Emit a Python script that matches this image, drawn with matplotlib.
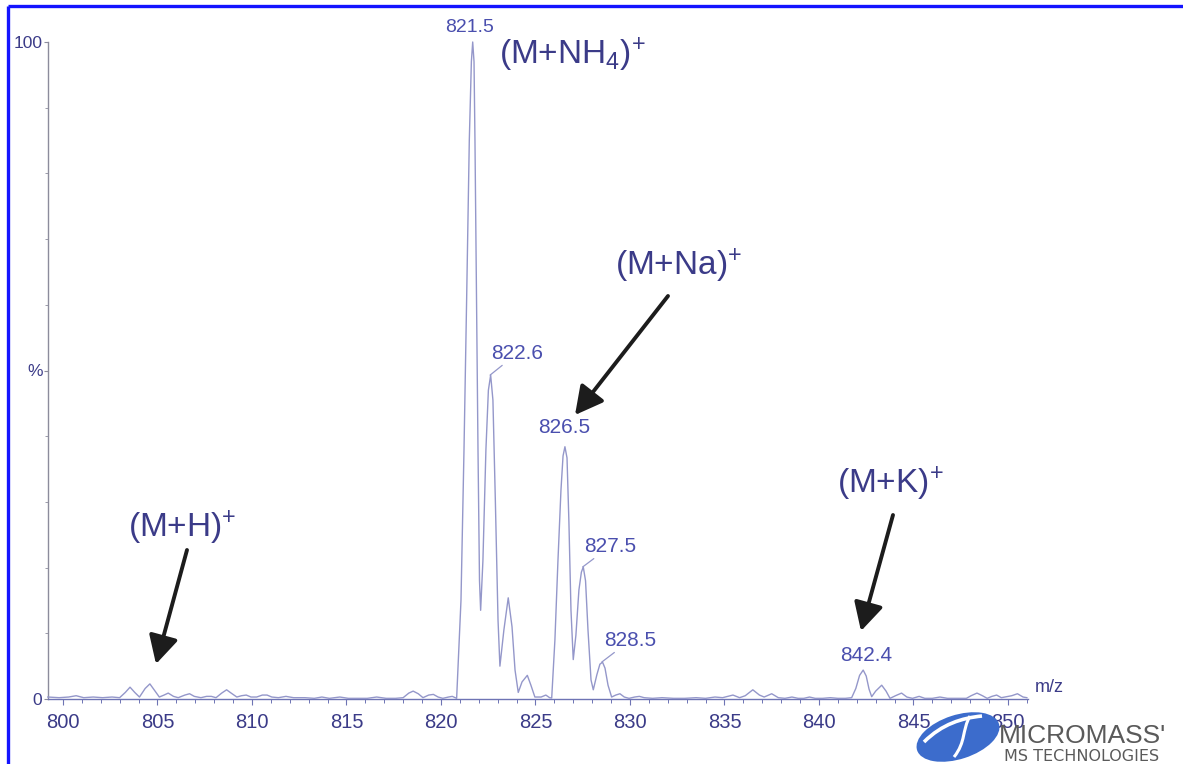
import matplotlib
matplotlib.use('Agg')
import matplotlib.pyplot as plt
from matplotlib.patches import Ellipse, PathPatch
from matplotlib.path import Path
from matplotlib.ticker import MultipleLocator, FixedLocator

plt.rcParams['font.family'] = ['Liberation Sans', 'DejaVu Sans']
plt.rcParams['mathtext.fontset'] = 'custom'
plt.rcParams['mathtext.rm'] = 'Liberation Sans'
plt.rcParams['mathtext.it'] = 'Liberation Sans:italic'
plt.rcParams['mathtext.bf'] = 'Liberation Sans:bold'

# spectrum trace (m/z, relative intensity %)
mz_trace = [
    799.2, 799.8, 800.3, 800.7, 801.1, 801.6, 802.1, 802.6, 803.0, 803.3,
    803.55, 803.8, 804.05, 804.35, 804.6, 804.85, 805.1, 805.35, 805.57, 805.85,
    806.1, 806.45, 806.7, 806.95, 807.3, 807.6, 807.85, 808.1, 808.4, 808.66,
    808.9, 809.2, 809.45, 809.7, 809.95, 810.25, 810.55, 810.8, 811.05, 811.4,
    811.8, 812.2, 812.8, 813.3, 813.7, 814.1, 814.65, 815.1, 815.7, 816.1,
    816.6, 817.1, 817.6, 818.0, 818.3, 818.53, 818.8, 819.05, 819.35, 819.6,
    819.85, 820.1, 820.4, 820.6, 820.83,
    821.06, 821.22, 821.36, 821.5, 821.61, 821.68, 821.75, 821.8, 821.88, 821.96,
    822.04, 822.1, 822.22, 822.38, 822.51, 822.63, 822.75, 822.88, 823.02, 823.12,
    823.33, 823.56, 823.76, 823.92, 824.09, 824.29, 824.57, 824.76, 824.97, 825.3,
    825.55, 825.75, 825.86, 826.03, 826.19, 826.35, 826.46, 826.56, 826.67, 826.77,
    826.88, 827.0, 827.14, 827.3, 827.43, 827.53, 827.65, 827.78, 827.94, 828.06,
    828.25, 828.41, 828.55, 828.68, 828.84, 829.03, 829.25, 829.47, 829.7, 829.95,
    830.25, 830.5, 830.75, 831.2, 831.7, 832.3, 832.9, 833.5, 834.0, 834.5,
    834.9, 835.45, 835.8, 836.1, 836.5, 836.85, 837.1, 837.5, 837.85, 838.2,
    838.57, 838.9, 839.2, 839.5, 839.8, 840.2, 840.6, 841.0, 841.4, 841.73,
    841.95, 842.15, 842.34, 842.5, 842.65, 842.79, 843.0, 843.32, 843.55, 843.76,
    844.05, 844.37, 844.65, 844.95, 845.3, 845.6, 846.0, 846.4, 846.8, 847.3,
    847.8, 848.05, 848.36, 848.65, 848.9, 849.15, 849.4, 849.65, 850.2, 850.5,
    850.8, 851.0,
]
rel_int = [
    0.3, 0.2, 0.3, 0.5, 0.2, 0.3, 0.2, 0.3, 0.2, 1.0,
    1.8, 1.0, 0.3, 1.6, 2.3, 1.3, 0.3, 0.6, 0.9, 0.4,
    0.2, 0.6, 0.8, 0.4, 0.2, 0.4, 0.4, 0.2, 0.9, 1.4,
    0.9, 0.3, 0.5, 0.6, 0.3, 0.3, 0.6, 0.6, 0.3, 0.2,
    0.4, 0.2, 0.2, 0.1, 0.3, 0.1, 0.3, 0.1, 0.1, 0.1,
    0.3, 0.1, 0.1, 0.2, 0.9, 1.2, 0.8, 0.2, 0.6, 0.7,
    0.3, 0.1, 0.3, 0.4, 0.1,
    15, 38, 61, 85, 97, 100, 97, 85, 61, 38,
    18, 13.5, 21, 38, 47, 49.3, 45.5, 30, 12, 5,
    10.5, 15.4, 11, 4.4, 1.0, 2.6, 3.6, 2.1, 0.3, 0.3,
    0.6, 0.2, 0.15, 9, 21, 31.8, 37, 38.4, 36.7, 27,
    13.5, 6, 9.7, 16.6, 19.3, 20.1, 18, 10.5, 2.9, 1.4,
    3.7, 5.3, 5.6, 4.7, 2.1, 0.3, 0.6, 0.8, 0.3, 0.1,
    0.3, 0.4, 0.2, 0.1, 0.2, 0.1, 0.1, 0.2, 0.1, 0.3,
    0.2, 0.6, 0.2, 0.5, 1.4, 0.6, 0.3, 0.8, 0.2, 0.1,
    0.3, 0.1, 0.1, 0.3, 0.1, 0.1, 0.2, 0.1, 0.1, 0.2,
    1.6, 3.6, 4.4, 3.5, 1.5, 0.35, 1.2, 2.1, 1.2, 0.1,
    0.5, 0.9, 0.3, 0.1, 0.4, 0.1, 0.1, 0.3, 0.1, 0.1,
    0.1, 0.5, 0.9, 0.5, 0.1, 0.4, 0.6, 0.2, 0.5, 0.8,
    0.3, 0.2,
]

# labelled peaks
peak_mz = [821.5, 822.6, 826.5, 827.5, 828.5, 842.4]
peak_int = [100, 49.3, 38.4, 20.1, 5.6, 4.4]
peak_text = ['821.5', '822.6', '826.5', '827.5', '828.5', '842.4']

# ion annotations
ion_text = [r'(M+NH$_\mathrm{4}$)$^\mathrm{+}$', r'(M+Na)$^\mathrm{+}$',
            r'(M+H)$^\mathrm{+}$', r'(M+K)$^\mathrm{+}$']

x_ticks = [800, 805, 810, 815, 820, 825, 830, 835, 840, 845, 850]
y_ticks = [0, 50, 100]
y_tick_labels = ['0', '%', '100']

trace_col = '#9497ca'
label_col = '#4a4fae'
dark_blue = '#3b3b88'

W, H = 1183, 764
fig = plt.figure(figsize=(W / 100, H / 100), dpi=100)
fig.patch.set_facecolor('white')


def px_rect(x0, y0, x1, y1):
    return [x0 / W, 1 - y1 / H, (x1 - x0) / W, (y1 - y0) / H]


ax = fig.add_axes(px_rect(48, 42, 1028, 699))
ax.plot(mz_trace, rel_int, color=trace_col, lw=1.0, clip_on=False, zorder=3)
ax.set_xlim(799.21, 851.06)
ax.set_ylim(0, 100)

for s in ['top', 'right']:
    ax.spines[s].set_visible(False)
ax.spines['left'].set_color('#8c8c9c')
ax.spines['bottom'].set_color('#6e74b4')
ax.spines['left'].set_linewidth(1.0)
ax.spines['bottom'].set_linewidth(1.0)

ax.xaxis.set_major_locator(FixedLocator(x_ticks))
ax.xaxis.set_minor_locator(MultipleLocator(1))
ax.set_xticklabels([str(t) for t in x_ticks])
ax.yaxis.set_major_locator(FixedLocator(y_ticks))
ax.yaxis.set_minor_locator(MultipleLocator(10))
ax.set_yticklabels(y_tick_labels)
ax.tick_params(axis='x', which='major', direction='out', length=4, width=0.8,
               color='#6e74b4', labelsize=14.5, labelcolor=dark_blue, pad=6)
ax.tick_params(axis='x', which='minor', direction='out', length=3, width=0.7,
               color='#6e74b4')
ax.tick_params(axis='y', which='major', direction='out', length=3, width=0.8,
               color='#8c8c9c', labelsize=12.5, labelcolor=dark_blue, pad=1)
ax.tick_params(axis='y', which='minor', direction='out', length=2, width=0.6,
               color='#8c8c9c')

# peak labels (offset in points from the apex)
offsets = [(0, 4, 'center'), (1, 9, 'left'), (0, 7, 'center'),
           (1, 8, 'left'), (2, 9, 'left'), (1, 4, 'center')]
for m, v, t, (dx, dy, ha) in zip(peak_mz, peak_int, peak_text, offsets):
    if ha == 'left':
        ax.annotate(t, xy=(m, v), xytext=(dx, dy), textcoords='offset points',
                    ha=ha, va='bottom', fontsize=15 if t != '821.5' else 14,
                    color=label_col, annotation_clip=False,
                    arrowprops=dict(arrowstyle='-', color=trace_col, lw=0.9,
                                    shrinkA=0, shrinkB=0))
    else:
        ax.annotate(t, xy=(m, v), xytext=(dx, dy), textcoords='offset points',
                    ha=ha, va='bottom', fontsize=15 if t != '821.5' else 14,
                    color=label_col, annotation_clip=False)

ax.text(1.007, 0.005, 'm/z', transform=ax.transAxes, fontsize=13,
        color=dark_blue, ha='left', va='bottom')

# overlay in reference pixel coordinates
ov = fig.add_axes([0, 0, 1, 1])
ov.set_xlim(0, W)
ov.set_ylim(H, 0)
ov.axis('off')
ov.patch.set_alpha(0)

# blue frame
ov.plot([8, W], [6, 6], color='#1414ff', lw=2.4, solid_capstyle='butt')
ov.plot([8, 8], [6, H], color='#1414ff', lw=2.4, solid_capstyle='butt')

# ion labels
ion_pos = [(572, 55), (678, 266), (182, 528), (890, 484)]
for t, (x, y) in zip(ion_text, ion_pos):
    ov.text(x, y, t, fontsize=24, color=dark_blue, ha='center', va='center')

# arrows
arrows = [((668, 296), (575, 415)), ((187, 550), (156, 664)),
          ((893, 515), (861, 631))]
for (x0, y0), (x1, y1) in arrows:
    ov.annotate('', xy=(x1, y1), xytext=(x0, y0),
                arrowprops=dict(arrowstyle='-|>,head_length=0.85,head_width=0.45',
                                mutation_scale=20, color='#1c1c1c', lw=2.8,
                                shrinkA=0, shrinkB=0))

# logo
ov.add_patch(Ellipse((958, 737), 86, 44, angle=-18, fc='#3c6ccc', ec='none',
                     zorder=5))
swoosh = Path([(924, 742), (942, 724), (962, 718), (982, 716)],
              [Path.MOVETO, Path.CURVE4, Path.CURVE4, Path.CURVE4])
ov.add_patch(PathPatch(swoosh, fc='none', ec='white', lw=2.6, zorder=6))
swoosh2 = Path([(970, 716), (962, 730), (966, 742), (954, 757)],
               [Path.MOVETO, Path.CURVE4, Path.CURVE4, Path.CURVE4])
ov.add_patch(PathPatch(swoosh2, fc='none', ec='white', lw=2.2, zorder=6))
ov.text(999, 743, "MICROMASS'", fontsize=19, color='#5a5a5a', ha='left',
        va='baseline', family=['Liberation Sans'], zorder=7)
ov.text(1004, 761, 'MS TECHNOLOGIES', fontsize=11.5, color='#5a5a5a',
        ha='left', va='baseline', family=['DejaVu Sans'], zorder=7)

fig.savefig('out.png', dpi=100, facecolor='white')
